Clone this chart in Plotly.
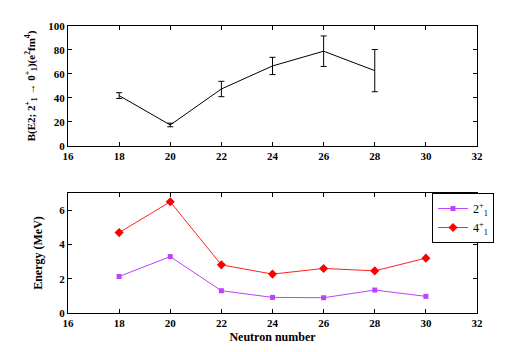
import plotly.graph_objects as go
from plotly.subplots import make_subplots

# B(E2) data
be2_n = [18, 20, 22, 24, 26, 28]
be2_val = [42, 17.5, 47.5, 66.7, 79, 62.8]
be2_err = [2.4, 1.5, 6.4, 7.2, 12.7, 17.6]

# excitation energies
e_n = [18, 20, 22, 24, 26, 28, 30]
e_2plus = [2.13, 3.29, 1.30, 0.91, 0.89, 1.34, 0.97]
e_4plus = [4.69, 6.49, 2.81, 2.27, 2.60, 2.46, 3.20]

x_ticks = [16, 18, 20, 22, 24, 26, 28, 30, 32]

font = dict(family="Liberation Serif", size=12, color="black")

fig = make_subplots(rows=2, cols=1, vertical_spacing=0.16)

fig.add_trace(go.Scatter(x=be2_n, y=be2_val, mode="lines",
                         line=dict(color="black", width=1),
                         error_y=dict(type="data", array=be2_err, color="black",
                                      thickness=1, width=3),
                         showlegend=False), row=1, col=1)

fig.add_trace(go.Scatter(x=e_n, y=e_2plus, mode="lines+markers",
                         name="2<sup>+</sup><sub>1</sub>",
                         line=dict(color="#c040ff", width=1),
                         marker=dict(symbol="square", size=5, color="#c040ff")),
              row=2, col=1)
fig.add_trace(go.Scatter(x=e_n, y=e_4plus, mode="lines+markers",
                         name="4<sup>+</sup><sub>1</sub>",
                         line=dict(color="#ff2020", width=1),
                         marker=dict(symbol="diamond", size=7, color="#ff0000")),
              row=2, col=1)

axis_style = dict(showline=True, linecolor="black", linewidth=1, mirror="ticks",
                  ticks="inside", ticklen=4, tickcolor="black", showgrid=False,
                  zeroline=False, automargin=False,
                  tickfont=dict(family="Liberation Serif", size=11,
                                color="black", weight="bold"))

fig.update_xaxes(range=[16, 32], tickvals=x_ticks, **axis_style)
fig.update_xaxes(title=dict(text="<b>Neutron number</b>", font=font, standoff=4),
                 row=2, col=1)
fig.update_yaxes(**axis_style)
fig.update_yaxes(range=[0, 100], tickvals=[0, 20, 40, 60, 80, 100],
                 title=dict(text="<b>B(E2; 2<sup>+</sup><sub>1</sub> → 0<sup>+</sup><sub>1</sub>)(e<sup>2</sup>fm<sup>4</sup>)</b>",
                            font=dict(family="Liberation Serif", size=11, color="black"),
                            standoff=10),
                 row=1, col=1)
fig.update_yaxes(range=[0, 7], tickvals=[0, 2, 4, 6],
                 title=dict(text="<b>Energy (MeV)</b>", font=font, standoff=14),
                 row=2, col=1)

# page body adds an 8px offset, so the figure is sized/margined to compensate
fig.update_layout(
    width=519, height=344,
    margin=dict(l=60, r=50, t=18, b=39),
    plot_bgcolor="white", paper_bgcolor="white",
    font=font,
    legend=dict(x=0.89, y=0.418, xanchor="left", yanchor="top",
                bordercolor="black", borderwidth=1, bgcolor="white",
                font=dict(family="Liberation Serif", size=12, color="black"),
                itemwidth=30, tracegroupgap=0),
    yaxis=dict(domain=[0.582, 1.0]),
    yaxis2=dict(domain=[0.0, 0.418]),
)

fig.write_html("out.html")
